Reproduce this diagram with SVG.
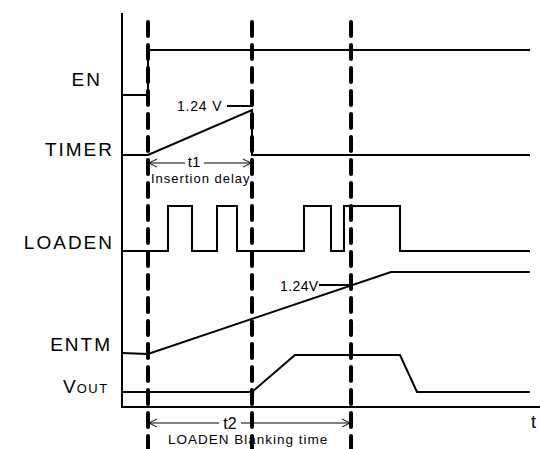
<svg xmlns="http://www.w3.org/2000/svg" width="540" height="449" viewBox="0 0 540 449">
<style>
.sig{fill:none;stroke:#000;stroke-width:2}
.dash{fill:none;stroke:#000;stroke-width:4;stroke-dasharray:14 9;stroke-linecap:round}
.dim{fill:none;stroke:#000;stroke-width:1}
.lbl{font-family:"Liberation Sans",Arial,sans-serif;font-size:19px;letter-spacing:2px;fill:#000}
.sm{font-family:"Liberation Sans",Arial,sans-serif;font-size:14px;fill:#000}
.tt{font-family:"Liberation Sans",Arial,sans-serif;font-size:16px;fill:#000}
</style>
<defs>
<marker id="ah" markerWidth="10" markerHeight="10" refX="9" refY="5" orient="auto-start-reverse" markerUnits="userSpaceOnUse">
<path d="M1,1 L9,5 L1,9" fill="none" stroke="#000" stroke-width="1"/>
</marker>
</defs>
<g id="axes">
<path class="sig" d="M122,13 V407 H540"/>
<text class="tt" x="531" y="428" style="font-size:18px">t</text>
</g>
<g id="EN">
<text class="lbl" x="102" y="86" text-anchor="end">EN</text>
<path class="sig" d="M122,95 H148 V50 H530"/>
</g>
<g id="TIMER">
<text class="lbl" x="114" y="156" text-anchor="end">TIMER</text>
<path class="sig" d="M122,155 H148 L252,110 V155 H530"/>
<text class="sm" x="177" y="111" style="letter-spacing:0.8px">1.24 V</text>
<path class="sig" d="M227,106 H252"/>
</g>
<g id="LOADEN">
<text class="lbl" x="114" y="249" text-anchor="end">LOADEN</text>
<path class="sig" d="M122,251 H168 V206 H192 V251 H217 V206 H237 V251 H304 V206 H331 V251 H344 V206 H400 V251 H530"/>
</g>
<g id="ENTM">
<text class="lbl" x="112" y="351" text-anchor="end">ENTM</text>
<path class="sig" d="M122,353 L148,354 L391,272 H530"/>
<text class="sm" x="280" y="291" style="letter-spacing:0.4px">1.24V</text>
<path class="sig" d="M319,285 H351"/>
</g>
<g id="VOUT">
<text class="lbl" x="63" y="393" style="letter-spacing:1px">V<tspan style="font-size:13px;letter-spacing:1.5px">OUT</tspan></text>
<path class="sig" d="M122,392 H252 L295,355 H400 L417,392 H530"/>
</g>
<g id="connectors">
<path class="dash" d="M148,22 V449"/>
<path class="dash" d="M252,22 V449"/>
<path class="dash" d="M351,22 V449"/>
<path class="dim" d="M185,163 H149" marker-end="url(#ah)"/>
<path class="dim" d="M204,163 H251" marker-end="url(#ah)"/>
<text class="tt" x="194" y="167" text-anchor="middle" style="font-size:15px">t1</text>
<text class="sm" x="151" y="183" style="font-size:13px;letter-spacing:1px">Insertion delay</text>
<path class="dim" d="M219,423 H149" marker-end="url(#ah)"/>
<path class="dim" d="M241,423 H350" marker-end="url(#ah)"/>
<circle cx="252" cy="423" r="2"/>
<text class="tt" x="230" y="429" text-anchor="middle">t2</text>
<text class="sm" x="168" y="444" style="font-size:13.5px;letter-spacing:1px">LOADEN Blanking time</text>
</g>
</svg>
